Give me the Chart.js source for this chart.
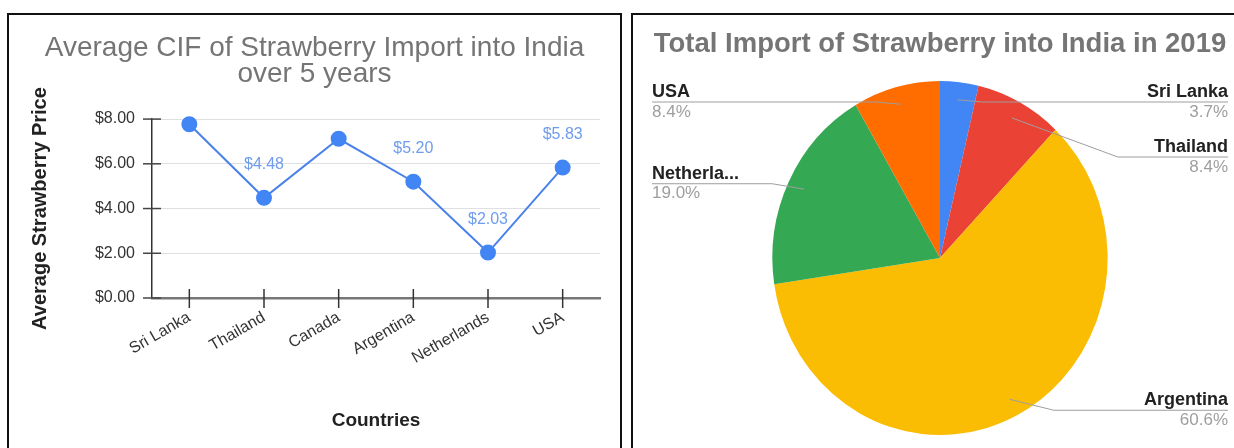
<!DOCTYPE html>
<html>
<head>
<meta charset="utf-8">
<title>Strawberry imports into India</title>
<script src="https://cdn.jsdelivr.net/npm/chart.js@4.4.1/dist/chart.umd.min.js"></script>
<style>
  body { margin: 0; background: #fff; width: 1234px; height: 448px; overflow: hidden; position: relative; }
  .panel { position: absolute; top: 13px; height: 445px; border: 2px solid #111; border-bottom: none; background: #fff; }
  #leftPanel { left: 7px; width: 611px; }
  #rightPanel { left: 631px; width: 610px; }
  canvas { display: block; }
</style>
</head>
<body>
<div class="panel" id="leftPanel"><canvas id="priceChart" width="611" height="433"></canvas></div>
<div class="panel" id="rightPanel"><canvas id="shareChart" width="601" height="433"></canvas></div>

<script>
// ---- data ----
const countries = ['Sri Lanka', 'Thailand', 'Canada', 'Argentina', 'Netherlands', 'USA'];
const avgPrice = [7.77, 4.48, 7.12, 5.20, 2.03, 5.83];
const priceLabelShown = [false, true, false, true, true, true];
const priceTicks = [0, 2, 4, 6, 8];

const importCountries = ['Sri Lanka', 'Thailand', 'Argentina', 'Netherlands', 'USA'];
const importShare = [3.7, 8.4, 60.6, 19.0, 8.4];
const sliceColors = ['#4285F4', '#EA4335', '#FBBC04', '#34A853', '#FF6D01'];

const FONT = '"Liberation Sans", Arial, sans-serif';

// ---- line chart helpers ----
// short dark ticks that cross both axes
const crossTicks = {
  id: 'crossTicks',
  afterDraw(chart) {
    const { ctx } = chart;
    const xs = chart.scales.x, ys = chart.scales.y;
    ctx.save();
    ctx.lineWidth = 1.5;
    ctx.strokeStyle = '#444';
    ys.ticks.forEach(t => {
      const y = ys.getPixelForValue(t.value);
      ctx.beginPath();
      ctx.moveTo(ys.right - 9, y);
      ctx.lineTo(ys.right + 9, y);
      ctx.stroke();
    });
    ctx.strokeStyle = '#333';
    xs.ticks.forEach((t, i) => {
      const x = xs.getPixelForTick(i);
      ctx.beginPath();
      ctx.moveTo(x, xs.top - 9);
      ctx.lineTo(x, xs.top + 10);
      ctx.stroke();
    });
    ctx.restore();
  }
};

// price labels above the points (drawn under the line)
const valueLabels = {
  id: 'valueLabels',
  beforeDatasetsDraw(chart) {
    const { ctx } = chart;
    const meta = chart.getDatasetMeta(0);
    ctx.save();
    ctx.font = '16px ' + FONT;
    ctx.fillStyle = '#6f9cec';
    ctx.textAlign = 'center';
    ctx.textBaseline = 'middle';
    meta.data.forEach((pt, i) => {
      if (!priceLabelShown[i]) return;
      ctx.fillText('$' + avgPrice[i].toFixed(2), pt.x, pt.y - 33);
    });
    ctx.restore();
  }
};

new Chart(document.getElementById('priceChart'), {
  type: 'line',
  data: {
    labels: countries,
    datasets: [{
      data: avgPrice,
      borderColor: '#4a82ea',
      borderWidth: 2,
      pointRadius: 7,
      pointBackgroundColor: '#4285F4',
      pointBorderColor: '#4285F4',
      tension: 0,
      clip: false
    }]
  },
  options: {
    responsive: false,
    animation: false,
    plugins: {
      legend: { display: false },
      tooltip: { enabled: false },
      title: {
        display: true,
        text: ['Average CIF of Strawberry Import into India', 'over 5 years'],
        color: '#757575',
        font: { family: FONT, size: 28, weight: 'normal', lineHeight: 0.93 },
        padding: { top: 20, bottom: 32 }
      }
    },
    scales: {
      y: {
        min: 0,
        max: 8,
        afterBuildTicks: s => { s.ticks = priceTicks.map(v => ({ value: v })); },
        afterFit: s => { s.width = 143; },
        ticks: {
          padding: 17,
          color: '#333',
          font: { family: FONT, size: 16 },
          callback: v => '$' + v.toFixed(2)
        },
        grid: { color: '#e0e0e0', drawTicks: false },
        border: { color: '#333', width: 1.5 },
        title: {
          display: true,
          text: 'Average Strawberry Price',
          color: '#222',
          font: { family: FONT, size: 20, weight: 'bold' },
          padding: { top: 19, bottom: 0 }
        }
      },
      // empty strip on the right so the plot stops short of the frame
      gutter: {
        position: 'right',
        min: 0,
        max: 8,
        afterFit: s => { s.width = 20; },
        ticks: { display: false },
        grid: { display: false },
        border: { display: false }
      },
      x: {
        offset: true,
        afterFit: s => { s.height = 150; },
        ticks: {
          padding: 2,
          minRotation: 30,
          maxRotation: 30,
          color: '#333',
          font: { family: FONT, size: 16 }
        },
        grid: { display: false },
        border: { color: '#777', width: 2.5 },
        title: {
          display: true,
          text: 'Countries',
          color: '#222',
          font: { family: FONT, size: 19, weight: 'bold' },
          padding: { top: 0, bottom: 16 }
        }
      }
    }
  },
  plugins: [valueLabels, crossTicks]
});

// ---- pie chart helpers ----
const PIE_SX = 0.947;      // horizontal squeeze of the pie
const LABEL_TOP = 87;
const LABEL_GAP = 55;
const LEFT_NAME_MAX = 95;

function fitName(ctx, name, maxW) {
  if (ctx.measureText(name).width <= maxW) return name;
  let s = name;
  while (s.length > 1 && ctx.measureText(s + '...').width > maxW) s = s.slice(0, -1);
  return s + '...';
}

// draw the slices slightly narrower than tall
const squeezePie = {
  id: 'squeezePie',
  beforeDatasetsDraw(chart) {
    const arc = chart.getDatasetMeta(0).data[0];
    const { ctx } = chart;
    ctx.save();
    ctx.translate(arc.x, arc.y);
    ctx.scale(PIE_SX, 1);
    ctx.translate(-arc.x, -arc.y);
  },
  afterDatasetsDraw(chart) {
    chart.ctx.restore();
  }
};

// outside labels with leader lines, name above the line and share below
const sliceLabels = {
  id: 'sliceLabels',
  afterDraw(chart) {
    const { ctx } = chart;
    const arcs = chart.getDatasetMeta(0).data;
    const edgeL = 19, edgeR = chart.width - 6;
    const items = arcs.map((arc, i) => {
      const mid = (arc.startAngle + arc.endAngle) / 2;
      const r = arc.outerRadius;
      return {
        i,
        right: Math.cos(mid) >= 0,
        x0: arc.x + Math.cos(mid) * r * 0.9 * PIE_SX,
        y0: arc.y + Math.sin(mid) * r * 0.9,
        lineY: arc.y + Math.sin(mid) * r * 0.97
      };
    });
    [true, false].forEach(side => {
      let prev = -Infinity;
      items.filter(it => it.right === side)
        .sort((a, b) => a.lineY - b.lineY)
        .forEach(it => {
          it.lineY = Math.max(it.lineY, LABEL_TOP, prev + LABEL_GAP);
          prev = it.lineY;
        });
    });

    ctx.save();
    items.forEach(it => {
      const dy = Math.abs(it.lineY - it.y0);
      const bendX = it.right ? it.x0 + 20 + dy * 2.2 : it.x0 - 20 - dy * 2.2;
      ctx.strokeStyle = '#9e9e9e';
      ctx.lineWidth = 1;
      ctx.beginPath();
      ctx.moveTo(it.x0, it.y0);
      ctx.lineTo(bendX, it.lineY);
      ctx.lineTo(it.right ? edgeR : edgeL, it.lineY);
      ctx.stroke();

      const tx = it.right ? edgeR : edgeL;
      ctx.textAlign = it.right ? 'right' : 'left';
      ctx.textBaseline = 'middle';
      ctx.font = 'bold 18px ' + FONT;
      ctx.fillStyle = '#222';
      let name = importCountries[it.i];
      if (!it.right) name = fitName(ctx, name, LEFT_NAME_MAX);
      ctx.fillText(name, tx, it.lineY - 10);
      ctx.font = '17px ' + FONT;
      ctx.fillStyle = '#9e9e9e';
      ctx.fillText(importShare[it.i].toFixed(1) + '%', tx, it.lineY + 10);
    });
    ctx.restore();
  }
};

new Chart(document.getElementById('shareChart'), {
  type: 'pie',
  data: {
    labels: importCountries,
    datasets: [{
      data: importShare,
      backgroundColor: sliceColors,
      borderWidth: 0,
      radius: 177
    }]
  },
  options: {
    responsive: false,
    animation: false,
    layout: { padding: { left: 13, bottom: 3 } },
    plugins: {
      legend: { display: false },
      tooltip: { enabled: false },
      title: {
        display: true,
        text: 'Total Import of Strawberry into India in 2019',
        color: '#757575',
        font: { family: FONT, size: 27.5, weight: 'bold' },
        padding: { top: 13, bottom: 10 }
      }
    }
  },
  plugins: [squeezePie, sliceLabels]
});
</script>
</body>
</html>
